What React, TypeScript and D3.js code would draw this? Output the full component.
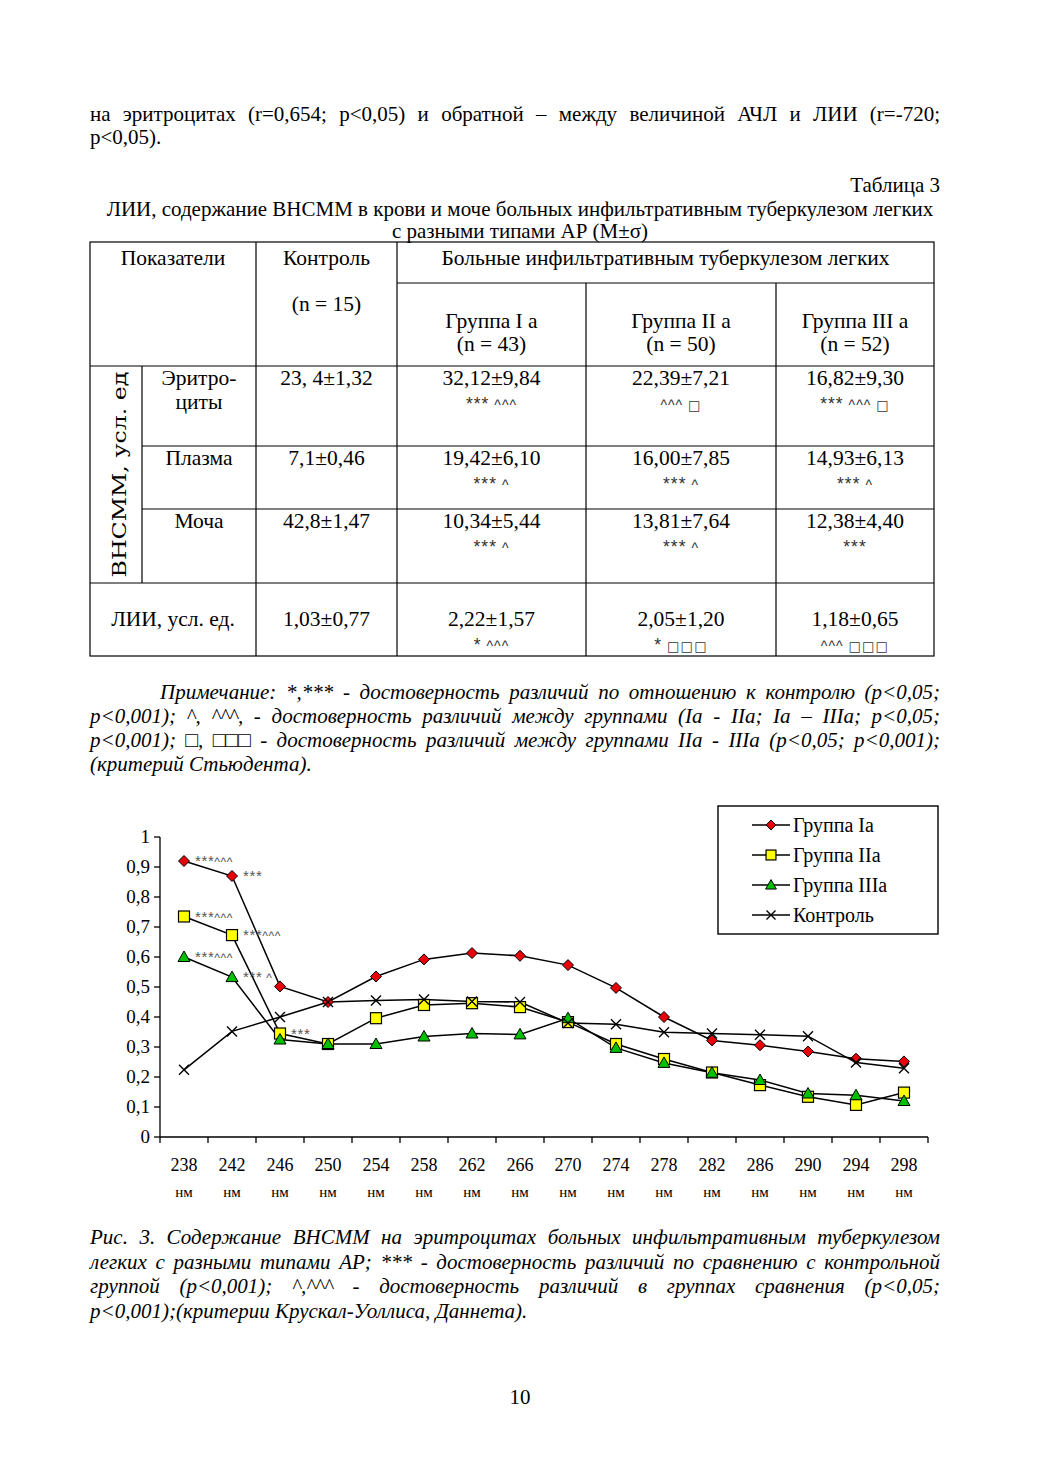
import React from "react"
import * as d3 from "d3"

// ---- page text ----
const introLines = [
  "на эритроцитах (r=0,654; p<0,05) и обратной – между величиной АЧЛ и ЛИИ (r=-720;",
  "p<0,05).",
]
const tableNo = "Таблица 3"
const tableTitle = [
  "ЛИИ, содержание ВНСММ в крови и моче больных инфильтративным туберкулезом легких",
  "с разными типами АР (М±σ)",
]
const noteLines = [
  "Примечание: *,*** - достоверность различий по отношению к контролю (p<0,05;",
  "p<0,001); ^, ^^^, - достоверность различий между группами (Ia - IIa; Ia – IIIa; p<0,05;",
  "p<0,001); □, □□□ - достоверность различий между группами IIa - IIIa (p<0,05; p<0,001);",
  "(критерий Стьюдента).",
]
const captionLines = [
  "Рис. 3.  Содержание ВНСММ на эритроцитах больных инфильтративным туберкулезом",
  "легких с разными типами АР; *** - достоверность различий по сравнению с контрольной",
  "группой    (p<0,001);  ^,^^^  -  достоверность различий в группах сравнения (p<0,05;",
  "p<0,001);(критерии Крускал-Уоллиса, Даннета).",
]
const pageNo = "10"

// ---- table ----
const groupNames = ["Группа I а", "Группа II а", "Группа III а"]
const groupNs = ["(n = 43)", "(n = 50)", "(n = 52)"]
const rowNames = [["Эритро-", "циты"], ["Плазма"], ["Моча"]]
const controlVals = ["23, 4±1,32", "7,1±0,46", "42,8±1,47", "1,03±0,77"]
const groupVals = [
  ["32,12±9,84", "22,39±7,21", "16,82±9,30"],
  ["19,42±6,10", "16,00±7,85", "14,93±6,13"],
  ["10,34±5,44", "13,81±7,64", "12,38±4,40"],
  ["2,22±1,57", "2,05±1,20", "1,18±0,65"],
]
const groupMarks = [
  ["*** ^^^", "^^^ □", "*** ^^^ □"],
  ["*** ^", "*** ^", "*** ^"],
  ["*** ^", "*** ^", "***"],
  ["* ^^^", "* □□□", "^^^ □□□"],
]

// ---- chart ----
const wavelengths = [238, 242, 246, 250, 254, 258, 262, 266, 270, 274, 278, 282, 286, 290, 294, 298]
const group1 = [0.92, 0.87, 0.502, 0.45, 0.535, 0.592, 0.613, 0.604, 0.573, 0.497, 0.4, 0.322, 0.306, 0.285, 0.261, 0.252]
const group2 = [0.735, 0.673, 0.345, 0.31, 0.396, 0.44, 0.446, 0.433, 0.383, 0.31, 0.26, 0.215, 0.173, 0.134, 0.107, 0.148]
const group3 = [0.6, 0.533, 0.325, 0.31, 0.31, 0.335, 0.345, 0.342, 0.396, 0.297, 0.247, 0.214, 0.19, 0.145, 0.139, 0.12]
const control = [0.224, 0.352, 0.4, 0.45, 0.455, 0.458, 0.452, 0.45, 0.38, 0.376, 0.349, 0.345, 0.341, 0.336, 0.248, 0.229]
const yTicks = [0, 0.1, 0.2, 0.3, 0.4, 0.5, 0.6, 0.7, 0.8, 0.9, 1]
const legendNames = ["Группа Ia", "Группа IIa", "Группа IIIa", "Контроль"]
const annotations = [
  { series: 0, idx: 0, text: "***^^^" },
  { series: 0, idx: 1, text: "***" },
  { series: 1, idx: 0, text: "***^^^" },
  { series: 1, idx: 1, text: "***^^^" },
  { series: 1, idx: 2, text: "***" },
  { series: 2, idx: 0, text: "***^^^" },
  { series: 2, idx: 1, text: "*** ^" },
]

const SERIF = '"Liberation Serif", "Times New Roman", serif'
const SANS = '"Liberation Sans", Arial, sans-serif'

let ctx: CanvasRenderingContext2D | null = null
function measure(s: string, size: number, italic = false) {
  if (!ctx) ctx = document.createElement("canvas").getContext("2d")
  ctx!.font = `${italic ? "italic " : ""}${size}px "Liberation Serif"`
  return ctx!.measureText(s).width
}

// justified line: words spread between x0 and x1
function JLine({ text, x0, x1, y, size, italic }: any) {
  const words = text.trim().split(/\s+/)
  const w = words.map((s: string) => measure(s, size, italic))
  const gap = (x1 - x0 - d3.sum(w)) / Math.max(1, words.length - 1)
  let x = x0
  return (
    <text y={y} fontSize={size} fontStyle={italic ? "italic" : "normal"} fontFamily={SERIF}>
      {words.map((s: string, i: number) => {
        const el = <tspan key={i} x={x}>{s}</tspan>
        x += w[i] + gap
        return el
      })}
    </text>
  )
}

// significance marks: asterisks a bit larger and lowered, carets / boxes plain
function Marks({ s, size }: { s: string; size: number }) {
  return (
    <>
      {Array.from(s).map((c, i) =>
        c === "*" ? (
          <tspan key={i} fontSize={size * 1.25} dy={0}>{c}</tspan>
        ) : c === "□" ? (
          <tspan key={i} fontFamily='"DejaVu Sans", sans-serif' fontSize={size * 0.95}>{c}</tspan>
        ) : (
          <tspan key={i}>{c}</tspan>
        )
      )}
    </>
  )
}

function marker(kind: number, cx: number, cy: number, k = 1) {
  if (kind === 0) {
    const r = 5.5 * k
    return <path d={`M${cx},${cy - r}L${cx + r},${cy}L${cx},${cy + r}L${cx - r},${cy}Z`} fill="#e8000b" stroke="#000" strokeWidth={1} />
  }
  if (kind === 1) {
    const r = 5.5 * k
    return <rect x={cx - r} y={cy - r} width={2 * r} height={2 * r} fill="#ffff00" stroke="#000" strokeWidth={1.2} />
  }
  if (kind === 2) {
    const r = 6 * k
    return <path d={`M${cx},${cy - r}L${cx + r},${cy + r * 0.75}L${cx - r},${cy + r * 0.75}Z`} fill="#00c000" stroke="#000" strokeWidth={1} />
  }
  const r = 5 * k
  return <path d={`M${cx - r},${cy - r}L${cx + r},${cy + r}M${cx - r},${cy + r}L${cx + r},${cy - r}`} stroke="#000" strokeWidth={1.4} fill="none" />
}

function Table() {
  const colX = [90, 142, 256, 397, 586, 776, 934]
  const rowY = [242, 283, 366, 446, 509, 583, 656]
  const fs = 21.5
  const mid = (a: number, b: number) => (a + b) / 2
  const groupCx = [mid(colX[3], colX[4]), mid(colX[4], colX[5]), mid(colX[5], colX[6])]
  const bodyTop = [rowY[2], rowY[3], rowY[4], rowY[5]]
  const line = { stroke: "#000", strokeWidth: 1.2 }
  return (
    <g fontFamily={SERIF} fontSize={fs} textAnchor="middle" fill="#000">
      <rect x={colX[0]} y={rowY[0]} width={colX[6] - colX[0]} height={rowY[6] - rowY[0]} fill="none" {...line} />
      <line x1={colX[3]} x2={colX[6]} y1={rowY[1]} y2={rowY[1]} {...line} />
      <line x1={colX[0]} x2={colX[6]} y1={rowY[2]} y2={rowY[2]} {...line} />
      <line x1={colX[1]} x2={colX[6]} y1={rowY[3]} y2={rowY[3]} {...line} />
      <line x1={colX[1]} x2={colX[6]} y1={rowY[4]} y2={rowY[4]} {...line} />
      <line x1={colX[0]} x2={colX[6]} y1={rowY[5]} y2={rowY[5]} {...line} />
      <line x1={colX[1]} x2={colX[1]} y1={rowY[2]} y2={rowY[5]} {...line} />
      <line x1={colX[2]} x2={colX[2]} y1={rowY[0]} y2={rowY[6]} {...line} />
      <line x1={colX[3]} x2={colX[3]} y1={rowY[0]} y2={rowY[6]} {...line} />
      <line x1={colX[4]} x2={colX[4]} y1={rowY[1]} y2={rowY[6]} {...line} />
      <line x1={colX[5]} x2={colX[5]} y1={rowY[1]} y2={rowY[6]} {...line} />

      <text x={mid(colX[0], colX[2])} y={265}>Показатели</text>
      <text x={mid(colX[2], colX[3])} y={265}>Контроль</text>
      <text x={mid(colX[2], colX[3])} y={311}>(n = 15)</text>
      <text x={mid(colX[3], colX[6])} y={265}>Больные инфильтративным туберкулезом легких</text>
      {groupNames.map((g, i) => (
        <g key={g}>
          <text x={groupCx[i]} y={328}>{g}</text>
          <text x={groupCx[i]} y={351}>{groupNs[i]}</text>
        </g>
      ))}

      <text transform={`translate(126,${mid(rowY[2], rowY[5])}) rotate(-90)`} fontFamily='"DejaVu Serif", serif' fontSize={19} textLength={206} lengthAdjust="spacingAndGlyphs">ВНСММ, усл. ед</text>
      {rowNames.map((r, i) => r.map((s, j) => (
        <text key={s} x={mid(colX[1], colX[2])} y={bodyTop[i] + 19 + j * 24}>{s}</text>
      )))}
      <text x={mid(colX[0], colX[2])} y={rowY[5] + 43}>ЛИИ, усл. ед.</text>

      {controlVals.map((v, i) => (
        <text key={v} x={mid(colX[2], colX[3])} y={i < 3 ? bodyTop[i] + 19 : rowY[5] + 43}>{v}</text>
      ))}
      {groupVals.map((row, i) => row.map((v, j) => {
        const y0 = i < 3 ? bodyTop[i] + 19 : rowY[5] + 43
        return (
          <g key={i + "-" + j}>
            <text x={groupCx[j]} y={y0}>{v}</text>
            <text x={groupCx[j]} y={y0 + 25} fontFamily={SANS} fontSize={14} letterSpacing={1} fill="#333">
              <Marks s={groupMarks[i][j]} size={14} />
            </text>
          </g>
        )
      }))}
    </g>
  )
}

function Chart() {
  const x = d3.scaleBand<number>().domain(wavelengths).range([160, 928])
  const y = d3.scaleLinear().domain([0, 1]).range([1137, 837])
  const cx = (w: number) => (x(w) as number) + x.bandwidth() / 2
  const series = [group1, group2, group3, control]
  const line = d3.line<number>().x((_, i) => cx(wavelengths[i])).y(v => y(v))
  const boundaries = wavelengths.map(w => x(w) as number).concat([928])
  return (
    <g fontFamily={SERIF}>
      <line x1={160} x2={160} y1={y(0)} y2={y(1)} stroke="#000" strokeWidth={1.3} />
      {yTicks.map(t => (
        <g key={t}>
          <line x1={154} x2={160} y1={y(t)} y2={y(t)} stroke="#000" strokeWidth={1.3} />
          <text x={150} y={y(t) + 6} fontSize={19} textAnchor="end">{d3.format(".1f")(t).replace(".", ",").replace(/^0,0$/, "0").replace(/^1,0$/, "1")}</text>
        </g>
      ))}
      <line x1={160} x2={928} y1={y(0)} y2={y(0)} stroke="#000" strokeWidth={1.3} />
      {boundaries.map(b => <line key={b} x1={b} x2={b} y1={y(0)} y2={y(0) + 6} stroke="#000" strokeWidth={1.3} />)}
      {wavelengths.map(w => (
        <g key={w} textAnchor="middle">
          <text x={cx(w)} y={1171} fontSize={18}>{w}</text>
          <text x={cx(w)} y={1197} fontSize={15}>нм</text>
        </g>
      ))}

      {series.map((s, k) => (
        <path key={"l" + k} d={line(s) as string} fill="none" stroke="#000" strokeWidth={1.5} />
      ))}
      {series.map((s, k) => (
        <g key={"m" + k}>{s.map((v, i) => <g key={i}>{marker(k, cx(wavelengths[i]), y(v))}</g>)}</g>
      ))}
      {annotations.map((a, i) => (
        <text key={i} x={cx(wavelengths[a.idx]) + 11} y={y(series[a.series][a.idx]) + 5} fontFamily={SANS} fontSize={12} fill="#555" letterSpacing={0.6}>
          <Marks s={a.text} size={12} />
        </text>
      ))}

      <rect x={718} y={806} width={220} height={128} fill="#fff" stroke="#000" strokeWidth={1.4} />
      {legendNames.map((n, i) => {
        const ly = 825 + i * 30
        return (
          <g key={n}>
            <line x1={752} x2={790} y1={ly} y2={ly} stroke="#000" strokeWidth={1.5} />
            {marker(i, 771, ly, 0.9)}
            <text x={793} y={ly + 7} fontSize={20}>{n}</text>
          </g>
        )
      })}
    </g>
  )
}

export default function App() {
  const fs = 21
  return (
    <div style={{ position: "absolute", left: 0, top: 0 }}>
      <svg width={1039} height={1471} viewBox="0 0 1039 1471" style={{ display: "block", background: "#fff" }}>
        <rect width={1039} height={1471} fill="#fff" />
        <JLine text={introLines[0]} x0={90} x1={940} y={121} size={fs} />
        <text x={90} y={144} fontSize={fs} fontFamily={SERIF}>{introLines[1]}</text>
        <text x={940} y={192} fontSize={fs} fontFamily={SERIF} textAnchor="end">{tableNo}</text>
        {tableTitle.map((t, i) => (
          <text key={t} x={520} y={216 + i * 22} fontSize={fs} fontFamily={SERIF} textAnchor="middle">{t}</text>
        ))}
        <Table />
        {noteLines.map((t, i) =>
          i < 3 ? (
            <JLine key={i} text={t} x0={i === 0 ? 160 : 90} x1={940} y={699 + i * 24} size={fs} italic />
          ) : (
            <text key={i} x={90} y={699 + i * 24} fontSize={fs} fontStyle="italic" fontFamily={SERIF}>{t}</text>
          )
        )}
        <Chart />
        {captionLines.map((t, i) =>
          i < 3 ? (
            <JLine key={i} text={t} x0={90} x1={940} y={1244 + i * 24.5} size={fs} italic />
          ) : (
            <text key={i} x={90} y={1244 + i * 24.5} fontSize={fs} fontStyle="italic" fontFamily={SERIF}>{t}</text>
          )
        )}
        <text x={520} y={1404} fontSize={fs} fontFamily={SERIF} textAnchor="middle">{pageNo}</text>
      </svg>
    </div>
  )
}
